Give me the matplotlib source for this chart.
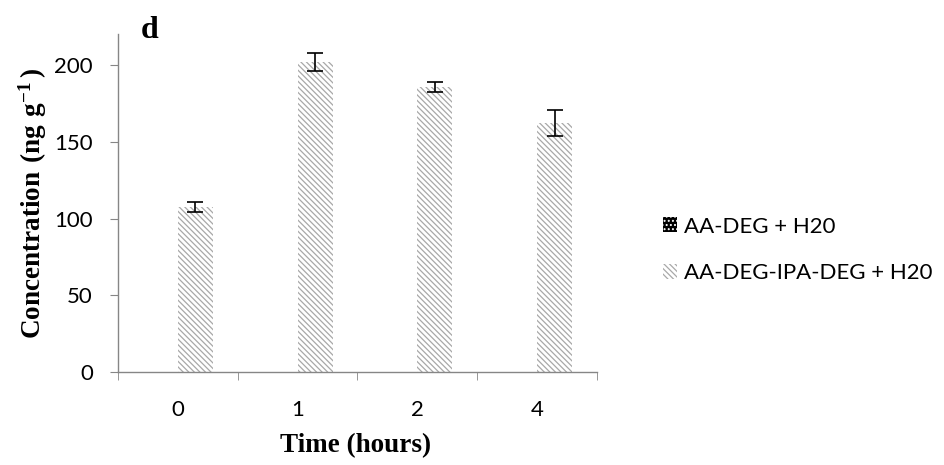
import matplotlib
matplotlib.use("Agg")
import matplotlib.pyplot as plt
from matplotlib.patches import Patch
import numpy as np

# data
times = ["0", "1", "2", "4"]
series_names = ["AA-DEG + H20", "AA-DEG-IPA-DEG + H20"]
conc_ipa = [107.5, 202, 185.5, 162]
err_ipa = [3.2, 5.7, 3.2, 8.5]

plt.rcParams['hatch.linewidth'] = 0.9
plt.rcParams['mathtext.fontset'] = 'custom'
plt.rcParams['mathtext.bf'] = 'Liberation Serif:bold'
plt.rcParams['mathtext.rm'] = 'Liberation Serif:bold'
tick_font = "Lato"
label_font = "Liberation Serif"
hatch_col = "#a8a8a8"

fig = plt.figure(figsize=(9.45, 4.65), dpi=100)
ax = fig.add_axes([0.1249, 0.2, 0.5068, 0.726])

x = np.arange(len(times))
w = 0.293
ax.bar(x + w / 2, conc_ipa, width=w, facecolor="white", edgecolor=hatch_col,
       hatch="\\" * 6, linewidth=0)
ax.errorbar(x + w / 2, conc_ipa, yerr=err_ipa, fmt="none", ecolor="black",
            elinewidth=1.2, capsize=6, capthick=1.2)

ax.set_xlim(-0.5, len(times) - 0.5)
ax.set_ylim(0, 220)
ax.set_yticks([0, 50, 100, 150, 200])
ax.set_xticks(x)
ax.set_xticklabels(times)
ax.set_xticks(np.arange(-0.5, len(times), 1.0), minor=True)

for s in ["top", "right"]:
    ax.spines[s].set_visible(False)
for s in ["left", "bottom"]:
    ax.spines[s].set_color("#868686")
    ax.spines[s].set_linewidth(1.0)

ax.tick_params(axis="y", which="major", length=6, color="#868686", pad=12,
               labelsize=16)
ax.tick_params(axis="x", which="major", length=0, pad=20, labelsize=16)
ax.tick_params(axis="x", which="minor", length=6, color="#868686")
for lab in ax.get_xticklabels() + ax.get_yticklabels():
    lab.set_fontfamily(tick_font)

fig.text(356 / 945, 1 - 446 / 465, "Time (hours)", ha="center", va="center",
         fontsize=19.5, fontweight="bold", fontfamily=label_font)
fig.text(33 / 945, 1 - 203 / 465,
         r"$\mathbf{Concentration\ (ng\ g^{-1}\,)}$",
         ha="center", va="center", rotation=90, fontsize=19.5)
fig.text(141 / 945, 1 - 38 / 465, "d", ha="left", va="baseline",
         fontsize=23, fontweight="bold", fontfamily=label_font)

handles = [
    Patch(facecolor="black", edgecolor="white", hatch="....", linewidth=0),
    Patch(facecolor="white", edgecolor=hatch_col, hatch="\\" * 6, linewidth=0),
]
fig.legend(handles, series_names, loc="center left",
           bbox_to_anchor=(663 / 945, 1 - 250 / 465), frameon=False,
           borderpad=0, borderaxespad=0, handlelength=0.65, handleheight=0.65,
           handletextpad=0.3, labelspacing=1.2,
           prop={"family": tick_font, "size": 16})

fig.savefig("out.png", dpi=100)
